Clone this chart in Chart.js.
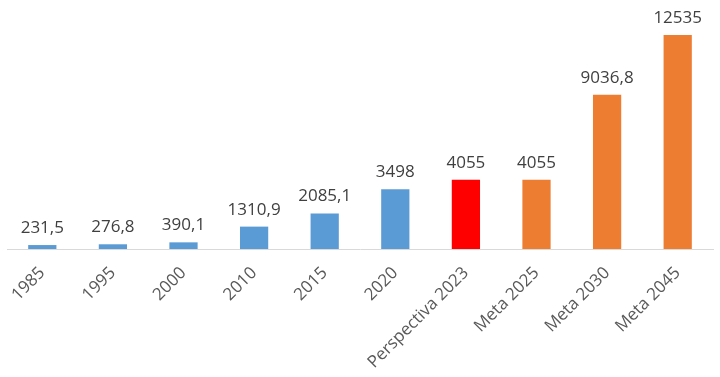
<!DOCTYPE html>
<html>
<head>
<meta charset="utf-8">
<script src="https://cdn.jsdelivr.net/npm/chart.js@4"></script>
<style>
  html, body { margin: 0; padding: 0; background: #fff; }
  #wrap { width: 720px; height: 377px; }
</style>
</head>
<body>
<div id="wrap"><canvas id="myChart"></canvas></div>
<script>
const categories = ['1985', '1995', '2000', '2010', '2015', '2020', 'Perspectiva 2023', 'Meta 2025', 'Meta 2030', 'Meta 2045'];
const values = [231.5, 276.8, 390.1, 1310.9, 2085.1, 3498, 4055, 4055, 9036.8, 12535];
const valueLabels = ['231,5', '276,8', '390,1', '1310,9', '2085,1', '3498', '4055', '4055', '9036,8', '12535'];
const barColors = ['#5B9BD5', '#5B9BD5', '#5B9BD5', '#5B9BD5', '#5B9BD5', '#5B9BD5', '#FF0000', '#ED7D31', '#ED7D31', '#ED7D31'];

// etiquetas de valor encima de cada barra
const valueLabelPlugin = {
  id: 'valueLabels',
  afterDatasetsDraw(chart) {
    const ctx = chart.ctx;
    const meta = chart.getDatasetMeta(0);
    ctx.save();
    ctx.font = '17px "Open Sans", "Liberation Sans", sans-serif';
    ctx.fillStyle = '#404040';
    ctx.textAlign = 'center';
    ctx.textBaseline = 'alphabetic';
    meta.data.forEach((bar, i) => {
      ctx.fillText(valueLabels[i], bar.x, bar.y - 12);
    });
    ctx.restore();
  }
};

const ctx = document.getElementById('myChart');
new Chart(ctx, {
  type: 'bar',
  data: {
    labels: categories,
    datasets: [{
      data: values,
      backgroundColor: barColors,
      barPercentage: 0.4,
      categoryPercentage: 1
    }]
  },
  options: {
    responsive: true,
    maintainAspectRatio: false,
    animation: false,
    layout: { padding: { left: 7, right: 7, top: 10, bottom: 0 } },
    scales: {
      y: {
        display: false,
        min: 0,
        max: 14000
      },
      x: {
        grid: { display: false },
        border: { display: true, color: '#D9D9D9', width: 1 },
        afterFit(scale) { scale.height = 128; },
        ticks: {
          minRotation: 45,
          maxRotation: 45,
          padding: 6,
          color: '#595959',
          font: { family: '"Open Sans", "Liberation Sans", sans-serif', size: 17 }
        }
      }
    },
    plugins: {
      legend: { display: false },
      tooltip: { enabled: false }
    }
  },
  plugins: [valueLabelPlugin]
});
</script>
</body>
</html>
